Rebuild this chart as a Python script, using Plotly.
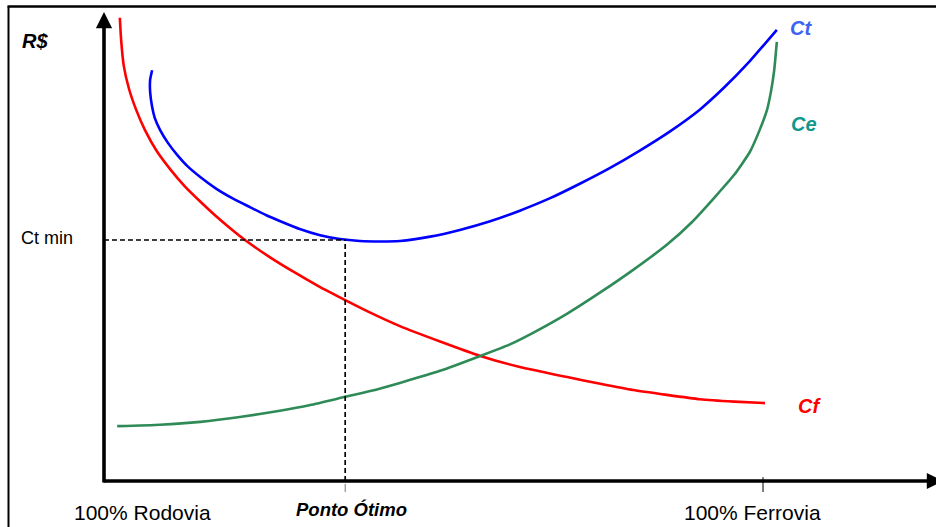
import plotly.graph_objects as go

# ---- data (x = % share of rail, y = cost R$) ----
cf_x = [2.4, 2.6, 3.0, 3.8, 4.9, 6.2, 8.0, 10.0, 12.3, 14.6, 16.8, 19.1, 21.4, 25.2, 29.0, 32.8, 36.6,
        40.4, 44.9, 51.0, 57.1, 63.1, 70.3, 75.3, 80.3, 85.4, 90.4, 95.6, 100.3]
cf_y = [96.3, 91.7, 86.3, 81.5, 77.1, 73.0, 68.6, 64.9, 61.2, 58.1, 55.3, 52.6, 50.1, 46.5, 43.3, 40.3, 37.6,
        35.0, 32.2, 29.0, 26.0, 23.7, 21.6, 20.2, 18.9, 17.9, 17.0, 16.5, 16.2]

ct_x = [7.3, 7.0, 7.0, 7.3, 7.7, 8.5, 9.7, 11.1, 12.7, 14.6, 17.0, 19.6, 22.2, 24.7, 27.3, 29.7, 32.8,
        35.8, 38.8, 41.9, 44.9, 49.5, 54.0, 58.6, 63.1, 67.7, 72.2, 76.8, 81.3, 85.9, 90.4, 94.1, 98.0, 102.1]
ct_y = [85.4, 83.4, 80.9, 77.8, 75.5, 73.0, 70.3, 67.8, 65.4, 63.2, 60.8, 58.7, 56.9, 55.2, 53.7, 52.4, 51.1,
        50.3, 49.9, 49.8, 49.9, 50.8, 52.2, 54.0, 56.2, 58.8, 61.8, 65.1, 68.7, 72.7, 77.2, 81.8, 87.3, 93.8]

ce_x = [2.0, 8.5, 14.6, 20.6, 26.7, 31.3, 36.6, 40.4, 44.9, 51.0, 57.1, 61.6, 65.1, 70.3, 75.3, 80.3,
        85.4, 89.2, 93.0, 95.6, 98.0, 99.5, 100.6, 101.2, 101.7, 102.1]
ce_y = [11.4, 11.7, 12.3, 13.3, 14.6, 15.8, 17.5, 18.7, 20.4, 22.9, 26.0, 28.4, 30.8, 34.8, 39.2, 43.9,
        49.1, 53.8, 59.5, 63.6, 68.4, 73.0, 77.1, 80.9, 85.4, 91.3]

ponto_otimo_x = 36.6
ct_min_y = 50.1

x_tick_vals = [0, 36.6, 100]
x_tick_text = ["100% Rodovia", "Ponto Ótimo", "100% Ferrovia"]

# ---- figure ----
W, H = 936, 527
X0PX, XSCALE = 104, 6.59       # pixel of x=0, px per unit
Y0PX, YSCALE = 481, 4.81       # pixel of y=0, px per unit
xr = [-X0PX / XSCALE, (W - X0PX) / XSCALE]
yr = [-(H - Y0PX) / YSCALE, Y0PX / YSCALE]

LINE = dict(width=2.6, shape="spline", smoothing=0.5)
fig = go.Figure()
fig.add_trace(go.Scatter(x=cf_x, y=cf_y, mode="lines", line=dict(color="#ff0000", **LINE), hoverinfo="skip"))
fig.add_trace(go.Scatter(x=ct_x, y=ct_y, mode="lines", line=dict(color="#0000ff", **LINE), hoverinfo="skip"))
fig.add_trace(go.Scatter(x=ce_x, y=ce_y, mode="lines", line=dict(color="#2e8b57", **LINE), hoverinfo="skip"))

# dashed guides
fig.add_shape(type="line", x0=0, x1=ponto_otimo_x, y0=ct_min_y, y1=ct_min_y, xref="x", yref="y",
              line=dict(color="black", width=1.7, dash="5px,3px"))
fig.add_shape(type="line", x0=ponto_otimo_x, x1=ponto_otimo_x, y0=0, y1=ct_min_y, xref="x", yref="y",
              line=dict(color="black", width=1.7, dash="5px,3px"))

# tick marks
fig.add_shape(type="line", x0=x_tick_vals[1], x1=x_tick_vals[1], y0=-0.6, y1=-2.3, xref="x", yref="y",
              line=dict(color="#777777", width=1))
fig.add_shape(type="line", x0=x_tick_vals[2], x1=x_tick_vals[2], y0=0.8, y1=-2.3, xref="x", yref="y",
              line=dict(color="black", width=1))

# axes arrows
fig.add_annotation(x=0, y=(Y0PX - 12) / YSCALE, ax=0, ay=-0.6, xref="x", yref="y", axref="x", ayref="y",
                   text="", showarrow=True, arrowhead=2, arrowsize=0.9, arrowwidth=3.6, arrowcolor="black", standoff=0)
fig.add_annotation(x=(943 - X0PX) / XSCALE, y=0, ax=-0.3, ay=0, xref="x", yref="y", axref="x", ayref="y",
                   text="", showarrow=True, arrowhead=2, arrowsize=0.9, arrowwidth=3.6, arrowcolor="black", standoff=0)

# frame (left and top border)
fig.add_shape(type="line", x0=8.5 / W, x1=8.5 / W, y0=0, y1=1 - 6.5 / H, xref="paper", yref="paper",
              line=dict(color="black", width=2))
fig.add_shape(type="line", x0=7.5 / W, x1=1, y0=1 - 6.5 / H, y1=1 - 6.5 / H, xref="paper", yref="paper",
              line=dict(color="black", width=2.5))

FONT = "Liberation Sans, Arial, sans-serif"

def label(text, px, py, size, color="black", bold=False, italic=False, xanchor="center"):
    t = text
    if bold:
        t = "<b>" + t + "</b>"
    if italic:
        t = "<i>" + t + "</i>"
    fig.add_annotation(x=px / W, y=1 - py / H, xref="paper", yref="paper", text=t, showarrow=False,
                       xanchor=xanchor, yanchor="middle", font=dict(family=FONT, size=size, color=color))

label("R$", 35, 41, 20, bold=True, italic=True)
label("Ct min", 19, 238, 18, xanchor="left")
label("Ct", 801, 28, 20, color="#3d63f2", bold=True, italic=True)
label("Ce", 804, 124, 20, color="#10988c", bold=True, italic=True)
label("Cf", 809, 406, 20, color="#ff0000", bold=True, italic=True)

tick_px = [X0PX + v * XSCALE for v in x_tick_vals]
label(x_tick_text[0], tick_px[0] + 38, 512, 21)
label(x_tick_text[1], tick_px[1] + 6, 509, 18.5, bold=True, italic=True)
label(x_tick_text[2], tick_px[2] - 11, 512, 21)

fig.update_layout(
    width=W, height=H, margin=dict(l=0, r=0, t=0, b=0),
    paper_bgcolor="white", plot_bgcolor="white", showlegend=False,
    xaxis=dict(range=xr, visible=False, fixedrange=True),
    yaxis=dict(range=yr, visible=False, fixedrange=True),
)
fig.write_html("out.html", config={"displayModeBar": False},
               post_script="document.body.style.margin='0';document.body.style.overflow='hidden';")
